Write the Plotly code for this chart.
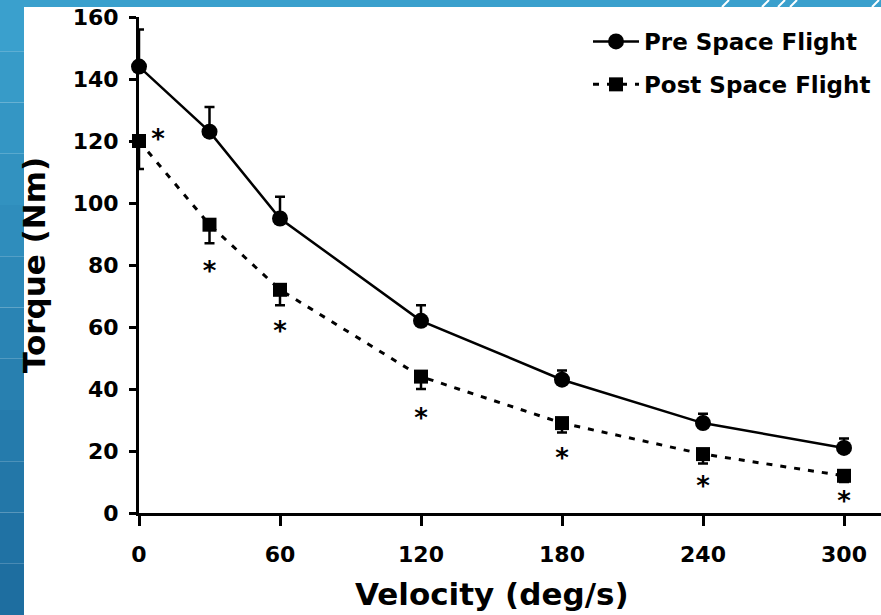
import plotly.graph_objects as go

velocity = [0, 30, 60, 120, 180, 240, 300]
pre_torque = [144, 123, 95, 62, 43, 29, 21]
pre_err = [12, 8, 7, 5, 3, 3, 3]
post_torque = [120, 93, 72, 44, 29, 19, 12]
post_err = [9, 6, 5, 4, 3, 3, 2]
sig_marks = ["*", "*", "*", "*", "*", "*", "*"]
x_ticks = [0, 60, 120, 180, 240, 300]
y_ticks = [0, 20, 40, 60, 80, 100, 120, 140, 160]

FONT = "DejaVu Sans"
W, H = 881, 615
ML, MR, MT, MB = 139, 0, 17, 102
PW, PH = W - ML - MR, H - MT - MB

def px_x(p):
    return (p - ML) / PW

def px_y(p):
    return (H - MB - p) / PH

fig = go.Figure()

fig.add_trace(go.Scatter(
    x=velocity, y=pre_torque, name="Pre Space Flight", mode="lines+markers",
    line=dict(color="black", width=2.5),
    marker=dict(symbol="circle", size=16, color="black"),
    error_y=dict(type="data", symmetric=False, array=pre_err,
                 arrayminus=[0] * len(pre_err), color="black",
                 thickness=2.5, width=5),
    cliponaxis=False, legendgroup="a",
))
fig.add_trace(go.Scatter(
    x=velocity, y=post_torque, name="Post Space Flight", mode="lines+markers",
    line=dict(color="black", width=3, dash="6px,8px"),
    marker=dict(symbol="square", size=14, color="black"),
    error_y=dict(type="data", symmetric=False, array=[0] * len(post_err),
                 arrayminus=post_err, color="black", thickness=2.5, width=5),
    cliponaxis=False, legendgroup="b",
))

sig_y = [post_torque[0]] + [v - e for v, e in zip(post_torque[1:], post_err[1:])]
sig_pos = ["middle right"] + ["bottom center"] * (len(velocity) - 1)
fig.add_trace(go.Scatter(
    x=velocity, y=sig_y, mode="markers+text", text=sig_marks, textposition=sig_pos,
    marker=dict(size=[18, 26, 22, 28, 22, 18, 12], opacity=0),
    textfont=dict(family=FONT, size=26, color="black"),
    showlegend=False, cliponaxis=False, hoverinfo="skip",
))

shapes = []
n = 12
top_c = (58, 160, 205)
bot_c = (30, 110, 160)
for i in range(n):
    t = i / (n - 1)
    c = tuple(int(top_c[k] + (bot_c[k] - top_c[k]) * t) for k in range(3))
    y0 = H * i / n
    y1 = H * (i + 1) / n
    shapes.append(dict(type="rect", xref="paper", yref="paper",
                       x0=px_x(0), x1=px_x(24), y0=px_y(y1), y1=px_y(y0),
                       fillcolor="rgb(%d,%d,%d)" % c, line=dict(width=0),
                       layer="below"))
shapes.append(dict(type="rect", xref="paper", yref="paper",
                   x0=px_x(0), x1=px_x(W), y0=px_y(7), y1=px_y(0),
                   fillcolor="rgb(58,160,205)", line=dict(width=0), layer="below"))
for xs in [722, 762, 778, 790, 872]:
    shapes.append(dict(type="line", xref="paper", yref="paper",
                       x0=px_x(xs), x1=px_x(xs + 7), y0=px_y(7), y1=px_y(0),
                       line=dict(color="white", width=2), layer="below"))

fig.add_annotation(
    text="Velocity (deg/s)", x=150, xref="x", y=px_y(594), yref="paper",
    xanchor="center", yanchor="middle", showarrow=False,
    font=dict(family=FONT, size=31, color="black", weight="bold"),
)

fig.update_layout(
    width=W, height=H,
    margin=dict(l=ML, r=MR, t=MT, b=MB),
    paper_bgcolor="white", plot_bgcolor="white",
    font=dict(family=FONT, size=22, color="black", weight="bold"),
    shapes=shapes,
    showlegend=True,
    legend=dict(x=px_x(588), y=px_y(20), xanchor="left", yanchor="top",
                bgcolor="rgba(0,0,0,0)", tracegroupgap=10,
                font=dict(family=FONT, size=23, color="black", weight="bold"),
                itemwidth=46),
    xaxis=dict(range=[0, PW / 2.35], tickvals=x_ticks, ticktext=[str(v) for v in x_ticks],
               showgrid=False, zeroline=False, showline=True, linecolor="black",
               linewidth=3, ticks="outside", ticklen=10, tickwidth=3,
               tickcolor="black", ticklabelstandoff=10),
    yaxis=dict(range=[0, 160], tickvals=y_ticks, ticktext=[str(v) for v in y_ticks],
               showgrid=False, zeroline=False, showline=True, linecolor="black",
               linewidth=3, ticks="outside", ticklen=7, tickwidth=3,
               tickcolor="black", ticklabelstandoff=6,
               title=dict(text="Torque (Nm)", standoff=18,
                          font=dict(family=FONT, size=31, weight="bold"))),
)

fig.write_html("out.html", config={"displayModeBar": False},
               post_script="document.body.style.margin='0';")
